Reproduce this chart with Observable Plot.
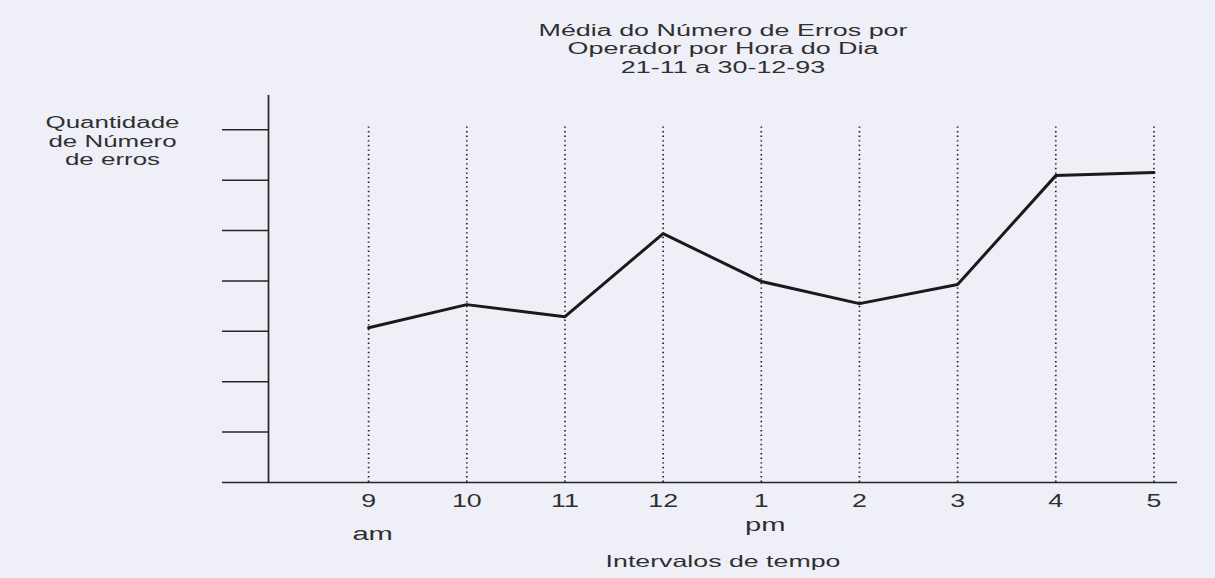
<!DOCTYPE html>
<html>
<head>
<meta charset="utf-8">
<script src="https://cdn.jsdelivr.net/npm/d3@7"></script>
<script src="https://cdn.jsdelivr.net/npm/@observablehq/plot@0.6"></script>
<style>
  html, body { margin: 0; padding: 0; background: #eff0f7; }
  #chart svg { display: block; }
</style>
</head>
<body>
<div id="chart"></div>
<script>
// Data
const hours = ["9", "10", "11", "12", "1", "2", "3", "4", "5"];
const errors = [3.07, 3.53, 3.29, 4.94, 3.99, 3.55, 3.93, 6.09, 6.15];
const yTicks = [0, 1, 2, 3, 4, 5, 6, 7];
const amHour = "9";
const pmHour = "1";
const title = "Média do Número de Erros por\nOperador por Hora do Dia\n21-11 a 30-12-93";
const yLabel = "Quantidade\nde Número\nde erros";
const xLabel = "Intervalos de tempo";

const idx = hours.map((h, i) => i);
const data = hours.map((h, i) => ({i, hour: h, value: errors[i]}));

const ink = "#262626";
const txt = "#303030";
const xDomain = [-1.02, 8.24];
const yDomain = [0, 7.68];

const chart = Plot.plot({
  width: 1215,
  height: 578,
  marginLeft: 268,
  marginRight: 38,
  marginTop: 95,
  marginBottom: 96,
  style: {background: "transparent", fontFamily: "'Liberation Sans', Arial, sans-serif", color: ink},
  x: {domain: xDomain, axis: null},
  y: {domain: yDomain, axis: null},
  marks: [
    Plot.ruleX(idx, {x: d => d, y1: 0, y2: 7.1, stroke: "#222", strokeWidth: 1.7, strokeDasharray: "1.4,3.2"}),
    Plot.axisY(yTicks, {tickSize: 46, tickFormat: () => "", label: null, stroke: ink, strokeWidth: 1.5}),
    Plot.ruleX([xDomain[0]], {stroke: ink, strokeWidth: 1.7}),
    Plot.ruleY([0], {stroke: ink, strokeWidth: 1.7}),
    Plot.axisX(idx, {tickSize: 0, tickPadding: 11, tickFormat: i => hours[i], label: null, fontSize: 18.5, fill: txt}),
    Plot.text([hours.indexOf(amHour)], {x: d => d, y: 0, text: () => "am", dx: 4, dy: 52, fontSize: 18, fill: txt}),
    Plot.text([hours.indexOf(pmHour)], {x: d => d, y: 0, text: () => "pm", dx: 4, dy: 43, fontSize: 18, fill: txt}),
    Plot.line(data, {x: "i", y: "value", stroke: "#1a1a1a", strokeWidth: 3, strokeLinejoin: "miter"}),
    Plot.text([title], {frameAnchor: "top", dy: -47, lineAnchor: "middle", lineHeight: 1.15, fontSize: 16, fill: txt}),
    Plot.text([yLabel], {frameAnchor: "top-left", textAnchor: "middle", lineAnchor: "middle", dx: -156, dy: 45, lineHeight: 1.17, fontSize: 16, fill: txt}),
    Plot.text([xLabel], {frameAnchor: "bottom", dy: 79, lineAnchor: "middle", fontSize: 16.5, fill: txt})
  ]
});
document.getElementById("chart").append(chart);

// the scanned reference is stretched horizontally: widen glyphs to match
chart.querySelectorAll("text").forEach(t => {
  const tspans = t.querySelectorAll("tspan");
  const s = t.textContent.trim();
  const isTick = /^\d+$/.test(s);
  const isTitle = s.startsWith("Média");
  const k = isTick ? 1.45 : isTitle ? 1.68 : 1.62;
  const parts = tspans.length ? Array.from(tspans) : [t];
  parts.forEach(p => {
    const len = p.getComputedTextLength();
    if (len > 0) {
      p.setAttribute("textLength", (len * k).toFixed(1));
      p.setAttribute("lengthAdjust", "spacingAndGlyphs");
    }
  });
});
</script>
</body>
</html>
